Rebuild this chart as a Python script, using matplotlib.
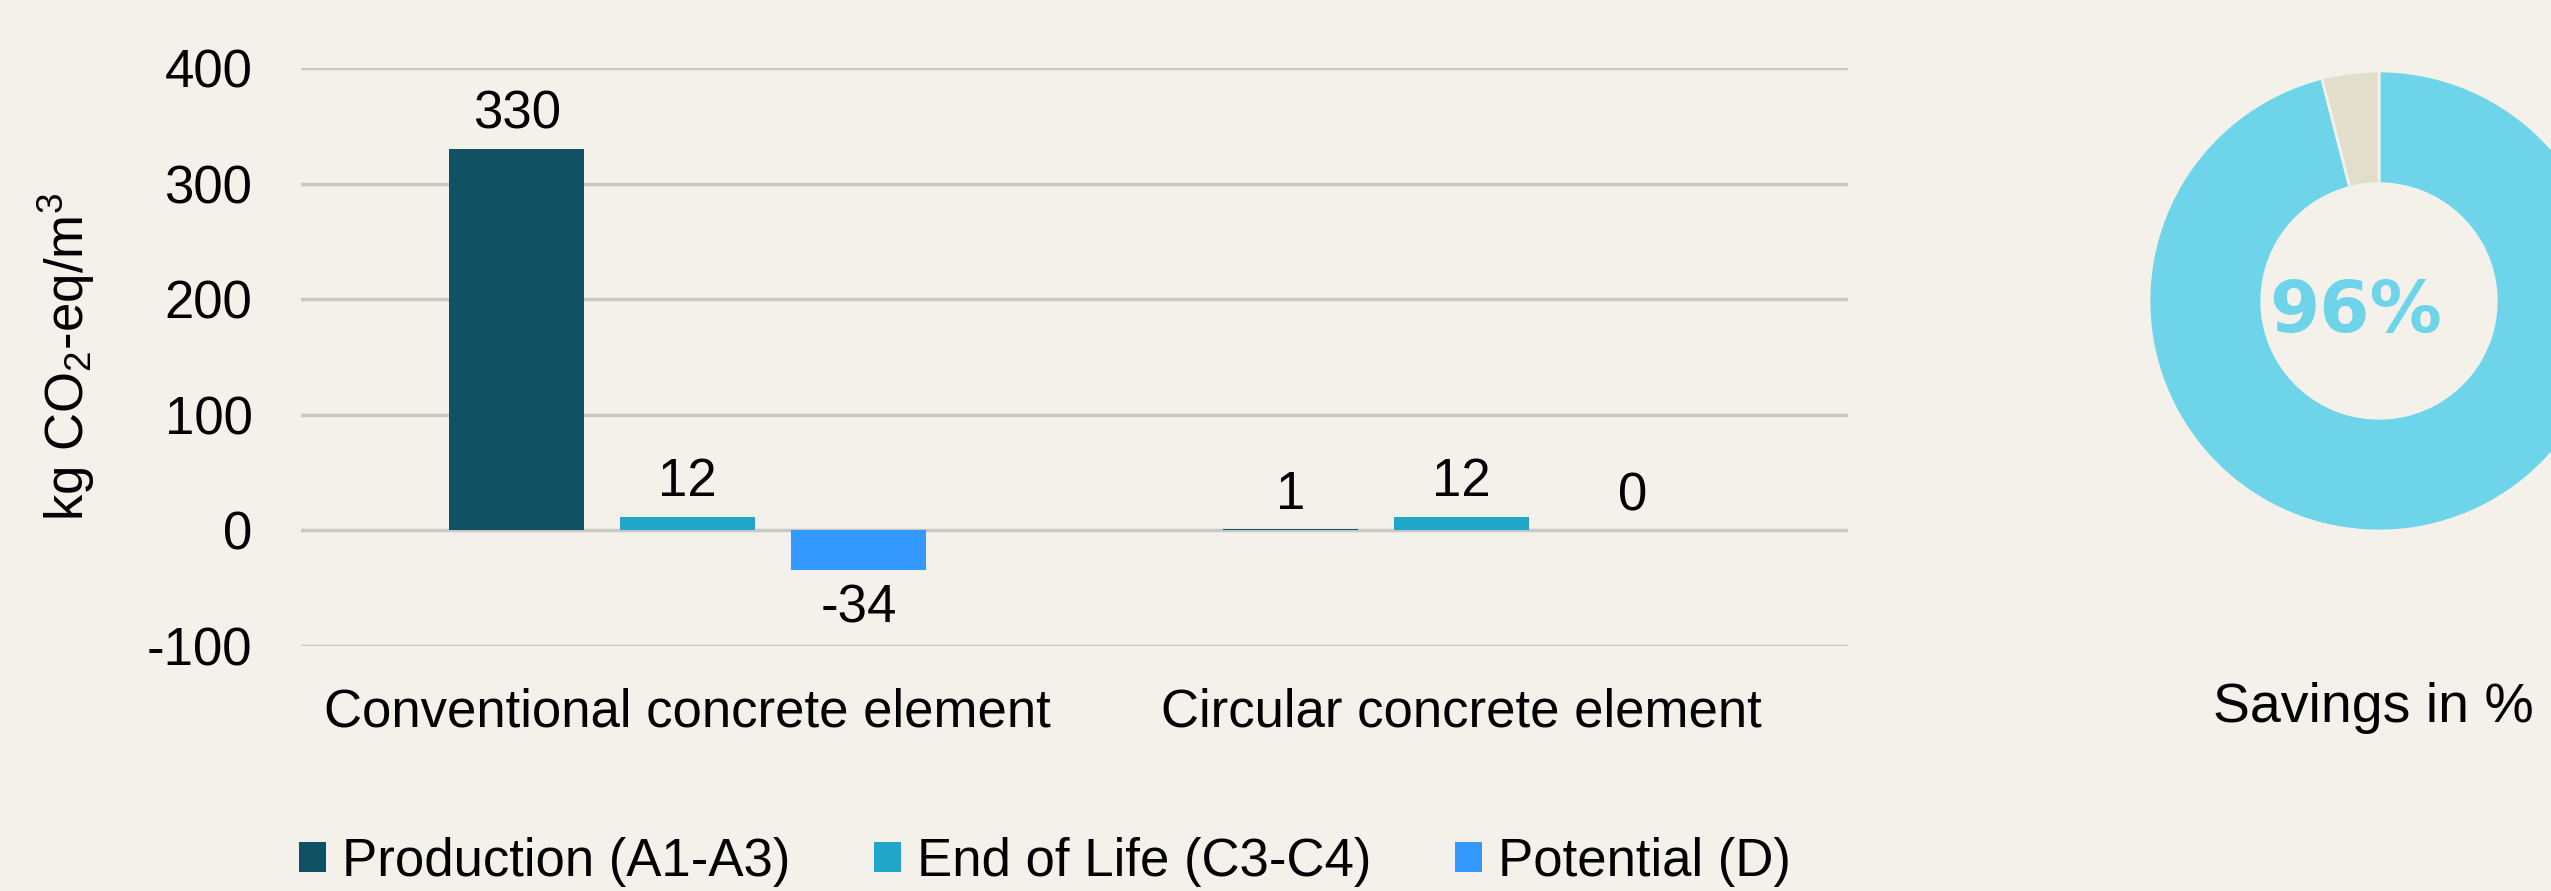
import numpy as np
import matplotlib
matplotlib.use("Agg")
import matplotlib.pyplot as plt
from matplotlib.patches import Patch

plt.rcParams['font.family'] = ['Liberation Sans', 'DejaVu Sans']
plt.rcParams['mathtext.default'] = 'regular'
plt.rcParams['axes.unicode_minus'] = False

# data
categories = ["Conventional concrete element", "Circular concrete element"]
series = ["Production (A1-A3)", "End of Life (C3-C4)", "Potential (D)"]
production = [330, 1]
end_of_life = [12, 12]
potential = [-34, 0]
savings_pct = 96

bg = "#F3F1EA"
colors = ["#105263", "#1FA6C9", "#3399FF"]
fs = 38

fig = plt.figure(figsize=(25.51, 8.91), dpi=100, facecolor=bg)

# bar chart
ax = fig.add_axes([301/2551, 1-646/891, (1848-301)/2551, (646-68)/891])
ax.set_facecolor(bg)
x = np.arange(len(categories))
w = 0.175
step = 0.221
for i, (vals, c) in enumerate(zip([production, end_of_life, potential], colors)):
    pos = x + (i - 1) * step
    ax.bar(pos, vals, width=w, color=c, zorder=3)
    for p, v in zip(pos, vals):
        if v < 0:
            ax.text(p, v - 12, str(v), ha='center', va='top', fontsize=fs)
        else:
            ax.text(p, v + 8, str(v), ha='center', va='bottom', fontsize=fs)

ax.set_xlim(-0.5, 1.5)
ax.set_ylim(-100, 400)
ax.set_yticks([-100, 0, 100, 200, 300, 400])
ax.yaxis.grid(True, color="#C8C8C8", linewidth=2.5, zorder=0)
ax.set_xticks(x)
ax.set_xticklabels(categories, fontsize=fs)
ax.tick_params(axis='both', length=0, labelsize=fs)
ax.tick_params(axis='x', pad=30)
ax.tick_params(axis='y', pad=35)
for s in ax.spines.values():
    s.set_visible(False)
ax.set_ylabel("kg CO$_2$-eq/m$^3$", fontsize=fs)
ax.yaxis.set_label_coords(-0.132, 0.5)

handles = [Patch(facecolor=c, edgecolor='none') for c in colors]
fig.legend(handles, series, loc='center', bbox_to_anchor=(1045/2551, 1-862/891),
           ncol=3, frameon=False, fontsize=fs, handlelength=0.5, handleheight=0.5,
           handletextpad=0.3, columnspacing=1.6)

# donut
r = 230
cx, cy = 2379, 301
ax2 = fig.add_axes([(cx - r)/2551, 1-(cy + r)/891, 2*r/2551, 2*r/891])
ax2.pie([savings_pct, 100 - savings_pct], colors=["#6DD4EA", "#E3DDCC"],
        startangle=90, counterclock=False,
        wedgeprops=dict(width=0.49, edgecolor=bg, linewidth=2))
ax2.set_xlim(-1, 1)
ax2.set_ylim(-1, 1)
ax2.text(-0.1, -0.05, f"{savings_pct}%", ha='center', va='center', fontsize=52,
         fontweight='heavy', color="#6DD4EA", family=['DejaVu Sans'])
fig.text(2373/2551, 1-708/891, "Savings in %", ha='center', va='center', fontsize=40)

fig.savefig("out.png", dpi=100, facecolor=bg)
